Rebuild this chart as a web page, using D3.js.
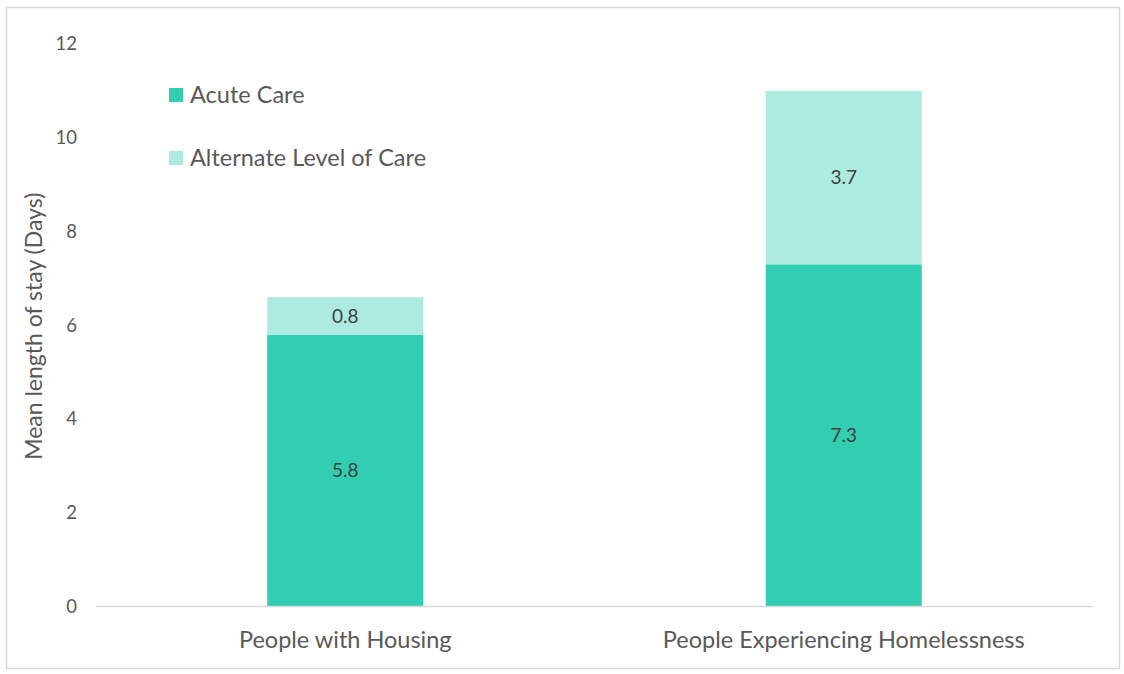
<!DOCTYPE html>
<html>
<head>
  <meta charset="utf-8">
  <title>stacked</title>
  <style>
    body{ margin:0; background:#fff; }
    text{ font-family: Lato, "Open Sans", sans-serif; }
    .tick text{ font-size:18.5px; fill:#595959; }
    .val{ font-size:19px; fill:#404040; text-anchor:middle; }
    .cat{ font-size:23.5px; fill:#595959; text-anchor:middle; }
    .leg{ font-size:23.5px; fill:#595959; }
  </style>
  <script src="https://d3js.org/d3.v7.min.js"></script>
</head>
<body>
  <script>
    var categories = ["People with Housing", "People Experiencing Homelessness"];
    var seriesNames = ["Acute Care", "Alternate Level of Care"];
    var acuteCare = [5.8, 7.3];
    var alternateCare = [0.8, 3.7];
    var yTicks = [0, 2, 4, 6, 8, 10, 12];
    var colors = ["#31ceb1", "#adebe0"];

    var width = 1124, height = 674;
    var svg = d3.select('body').append('svg')
      .attr('width', width)
      .attr('height', height);

    // outer frame
    svg.append('rect')
      .attr('x', 6.5).attr('y', 7.5)
      .attr('width', 1113).attr('height', 661)
      .attr('fill', 'none')
      .attr('stroke', '#d9d9d9')
      .attr('stroke-width', 1.5);

    var x = d3.scaleBand().domain(categories).range([96, 1093]);
    var y = d3.scaleLinear().domain([0, 12]).range([606.5, 44]);
    var barW = x.bandwidth() * 0.313;

    // stack the two series
    var rows = categories.map(function(c, i){
      return {cat: c, "Acute Care": acuteCare[i], "Alternate Level of Care": alternateCare[i]};
    });
    var stacked = d3.stack().keys(seriesNames)(rows);

    var layer = svg.selectAll('g.layer')
      .data(stacked)
      .enter().append('g')
      .attr('class', 'layer')
      .attr('fill', function(d, i){ return colors[i]; });

    layer.selectAll('rect')
      .data(function(d){ return d; })
      .enter().append('rect')
      .attr('x', function(d){ return x(d.data.cat) + x.bandwidth()/2 - barW/2; })
      .attr('width', barW)
      .attr('y', function(d){ return y(d[1]); })
      .attr('height', function(d){ return y(d[0]) - y(d[1]); });

    // value labels
    layer.selectAll('text')
      .data(function(d){ return d; })
      .enter().append('text')
      .attr('class', 'val')
      .attr('x', function(d){ return x(d.data.cat) + x.bandwidth()/2; })
      .attr('y', function(d){ return (y(d[0]) + y(d[1]))/2; })
      .attr('dy', '0.36em')
      .text(function(d){ return (d[1] - d[0]).toFixed(1); });

    // baseline
    svg.append('line')
      .attr('x1', 96).attr('x2', 1093)
      .attr('y1', y(0)).attr('y2', y(0))
      .attr('stroke', '#d9d9d9')
      .attr('stroke-width', 1.5);

    // y axis (labels only)
    var yAxis = svg.append('g')
      .attr('transform', 'translate(96,0)')
      .call(d3.axisLeft(y).tickValues(yTicks).tickSize(0).tickPadding(19).tickFormat(d3.format('d')));
    yAxis.select('.domain').remove();

    svg.append('text')
      .attr('transform', 'translate(42,' + (y(6) + 1) + ') rotate(-90)')
      .attr('text-anchor', 'middle')
      .attr('font-size', '23px')
      .attr('fill', '#595959')
      .text('Mean length of stay (Days)');

    // category labels
    svg.selectAll('text.cat')
      .data(categories)
      .enter().append('text')
      .attr('class', 'cat')
      .attr('x', function(d){ return x(d) + x.bandwidth()/2; })
      .attr('y', 648)
      .text(function(d){ return d; });

    // legend
    var leg = svg.selectAll('g.legend')
      .data(seriesNames)
      .enter().append('g')
      .attr('class', 'legend')
      .attr('transform', function(d, i){ return 'translate(169,' + (88 + i*63) + ')'; });
    leg.append('rect')
      .attr('width', 14).attr('height', 14)
      .attr('fill', function(d, i){ return colors[i]; });
    leg.append('text')
      .attr('class', 'leg')
      .attr('x', 21).attr('y', 14.5)
      .text(function(d){ return d; });
  </script>
</body>
</html>
